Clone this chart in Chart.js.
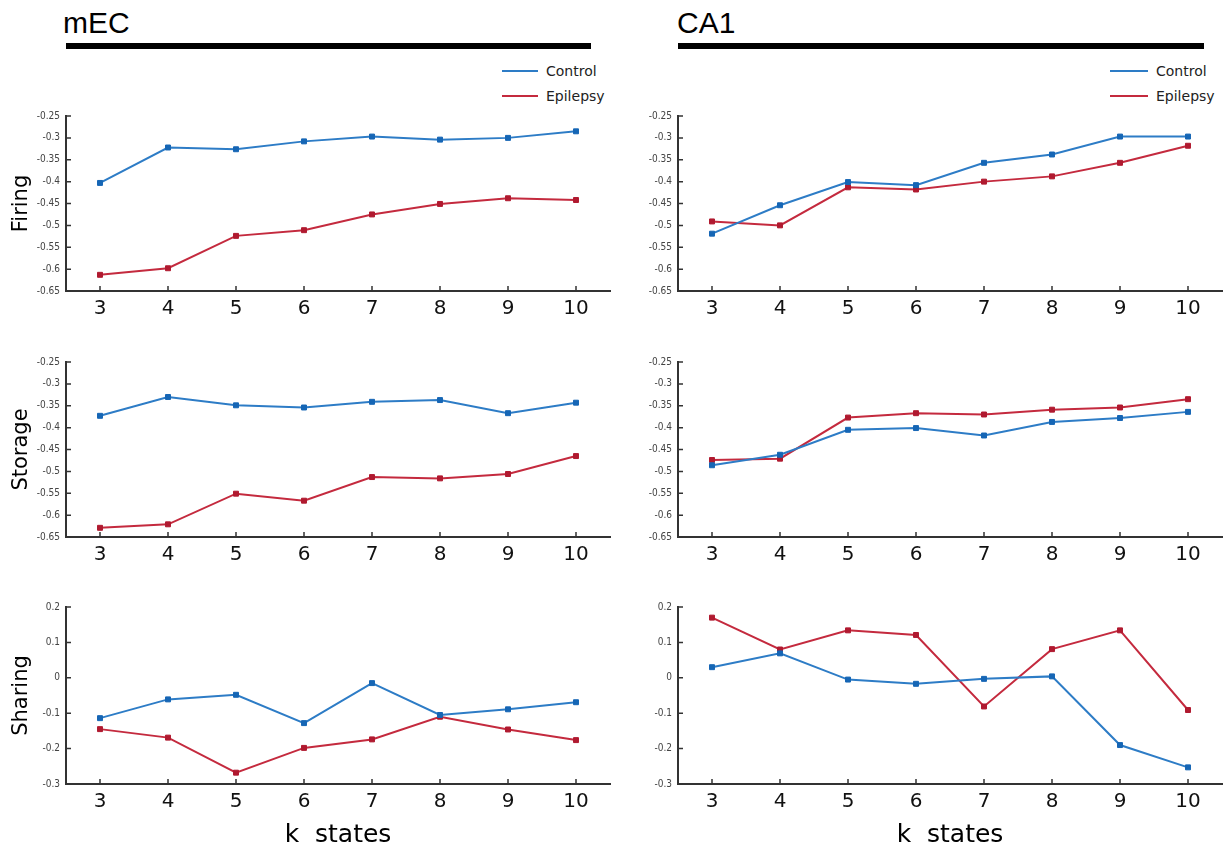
<!DOCTYPE html>
<html>
<head>
<meta charset="utf-8">
<title>mEC / CA1 k states</title>
<script src="https://cdn.jsdelivr.net/npm/chart.js@4.4.1/dist/chart.umd.min.js"></script>
<style>
body { margin: 0; background: #fff; width: 1224px; height: 850px; position: relative; overflow: hidden; font-family: "DejaVu Sans", sans-serif; }
.box { position: absolute; }
.region { position: absolute; font-family: "Liberation Sans", Arial, sans-serif; font-size: 30px; line-height: 30px; color: #000; }
.bar { position: absolute; top: 43px; height: 6px; background: #000; }
.legend { position: absolute; font-size: 14px; color: #222; }
.legend .row { height: 25px; display: flex; align-items: center; }
.legend .line { display: inline-block; height: 2px; margin-right: 8px; }
</style>
</head>
<body>

<div class="region" style="left:63px; top:8px">mEC</div>
<div class="bar" style="left:66px; width:525px"></div>
<div class="region" style="left:677px; top:8px">CA1</div>
<div class="bar" style="left:678px; width:526px"></div>

<div class="legend" id="legendMec" style="left:502px; top:58px"></div>
<div class="legend" id="legendCa1" style="left:1110px; top:58px"></div>

<div class="box" style="left:0; top:104px"><canvas id="firingMec" width="614" height="217"></canvas></div>
<div class="box" style="left:612px; top:104px"><canvas id="firingCa1" width="612" height="217"></canvas></div>
<div class="box" style="left:0; top:350px"><canvas id="storageMec" width="614" height="217"></canvas></div>
<div class="box" style="left:612px; top:350px"><canvas id="storageCa1" width="612" height="217"></canvas></div>
<div class="box" style="left:0; top:595px"><canvas id="sharingMec" width="614" height="255"></canvas></div>
<div class="box" style="left:612px; top:595px"><canvas id="sharingCa1" width="612" height="255"></canvas></div>

<script>
// x categories and series
var kStates = ['3', '4', '5', '6', '7', '8', '9', '10'];
var seriesNames = ['Control', 'Epilepsy'];
var lineColors = ['#2d7cc6', '#c42a3e'];
var pointColors = ['#1666b5', '#b01a30'];

// Firing
var firingMecControl = [-0.403, -0.322, -0.326, -0.308, -0.297, -0.304, -0.300, -0.285];
var firingMecEpilepsy = [-0.613, -0.598, -0.524, -0.511, -0.475, -0.451, -0.438, -0.442];
var firingCa1Control = [-0.519, -0.454, -0.401, -0.408, -0.357, -0.338, -0.297, -0.297];
var firingCa1Epilepsy = [-0.491, -0.500, -0.413, -0.418, -0.400, -0.388, -0.357, -0.318];

// Storage
var storageMecControl = [-0.373, -0.330, -0.349, -0.354, -0.341, -0.337, -0.367, -0.343];
var storageMecEpilepsy = [-0.629, -0.621, -0.551, -0.567, -0.513, -0.516, -0.506, -0.465];
var storageCa1Control = [-0.486, -0.462, -0.405, -0.401, -0.418, -0.387, -0.378, -0.364];
var storageCa1Epilepsy = [-0.474, -0.471, -0.377, -0.367, -0.370, -0.359, -0.354, -0.335];

// Sharing
var sharingMecControl = [-0.114, -0.061, -0.048, -0.128, -0.015, -0.105, -0.089, -0.069];
var sharingMecEpilepsy = [-0.145, -0.169, -0.268, -0.198, -0.174, -0.110, -0.146, -0.176];
var sharingCa1Control = [0.030, 0.069, -0.005, -0.017, -0.003, 0.004, -0.190, -0.253];
var sharingCa1Epilepsy = [0.170, 0.080, 0.134, 0.121, -0.081, 0.081, 0.134, -0.091];

// y axis ranges [min, max, step]
var scoreTicks = [-0.65, -0.25, 0.05];
var sharingTicks = [-0.3, 0.2, 0.1];

Chart.defaults.font.family = '"DejaVu Sans", sans-serif';

// matlab style ticks pointing into the plot
var inwardTicks = {
    id: 'inwardTicks',
    beforeDatasetsDraw: function(chart) {
        var ctx = chart.ctx;
        var area = chart.chartArea;
        var x = chart.scales.x;
        var y = chart.scales.y;
        ctx.save();
        ctx.strokeStyle = '#333';
        ctx.lineWidth = 1.5;
        ctx.beginPath();
        for (var i = 0; i < x.ticks.length; i++) {
            var px = x.getPixelForTick(i);
            ctx.moveTo(px, area.bottom);
            ctx.lineTo(px, area.bottom - 5);
        }
        for (var j = 0; j < y.ticks.length; j++) {
            var py = y.getPixelForTick(j);
            ctx.moveTo(area.left, py);
            ctx.lineTo(area.left + 5, py);
        }
        ctx.stroke();
        ctx.restore();
    }
};

function makeDataset(i, values) {
    return {
        label: seriesNames[i],
        data: values,
        borderColor: lineColors[i],
        backgroundColor: pointColors[i],
        borderWidth: 2,
        tension: 0,
        pointStyle: 'rect',
        pointRadius: 3.5,
        pointBorderWidth: 1,
        pointBorderColor: pointColors[i],
        pointBackgroundColor: pointColors[i]
    };
}

function createPanel(id, control, epilepsy, yTicks, yTitle, xTitle, xHeight, padRight) {
    var ctx = document.getElementById(id).getContext('2d');
    return new Chart(ctx, {
        type: 'line',
        data: {
            labels: kStates,
            datasets: [makeDataset(0, control), makeDataset(1, epilepsy)]
        },
        options: {
            responsive: false,
            animation: false,
            devicePixelRatio: 1,
            layout: { autoPadding: false, padding: { top: 10, right: padRight, left: 0, bottom: 0 } },
            plugins: { legend: { display: false }, tooltip: { enabled: false } },
            scales: {
                x: {
                    type: 'category',
                    offset: true,
                    grid: { display: false, drawTicks: false },
                    border: { display: true, color: '#333', width: 2 },
                    ticks: { padding: 6, color: '#111', font: { size: 20 }, maxRotation: 0, autoSkip: false },
                    title: { display: !!xTitle, text: xTitle, color: '#000', font: { size: 25 }, padding: { top: 0, bottom: 0 } },
                    afterFit: function(scale) { scale.height = xHeight; }
                },
                y: {
                    min: yTicks[0],
                    max: yTicks[1],
                    grid: { display: false, drawTicks: false },
                    border: { display: true, color: '#333', width: 2 },
                    ticks: {
                        stepSize: yTicks[2],
                        padding: 6,
                        color: '#444',
                        font: { family: '"DejaVu Sans Condensed", "DejaVu Sans", sans-serif', size: 10 },
                        callback: function(v) { return Number(v.toFixed(2)).toString(); }
                    },
                    title: { display: !!yTitle, text: yTitle, color: '#000', font: { size: 21 }, padding: { top: 9, bottom: 0 } },
                    afterFit: function(scale) { scale.width = 66; }
                }
            }
        },
        plugins: [inwardTicks]
    });
}

function buildLegend(id, lineWidth) {
    var el = document.getElementById(id);
    for (var i = 0; i < seriesNames.length; i++) {
        var row = document.createElement('div');
        row.className = 'row';
        var line = document.createElement('span');
        line.className = 'line';
        line.style.width = lineWidth + 'px';
        line.style.background = lineColors[i];
        row.appendChild(line);
        row.appendChild(document.createTextNode(seriesNames[i]));
        el.appendChild(row);
    }
}

buildLegend('legendMec', 36);
buildLegend('legendCa1', 38);

var charts = [];
charts.push(createPanel('firingMec', firingMecControl, firingMecEpilepsy, scoreTicks, 'Firing', '', 30, 4));
charts.push(createPanel('firingCa1', firingCa1Control, firingCa1Epilepsy, scoreTicks, '', '', 30, 2));
charts.push(createPanel('storageMec', storageMecControl, storageMecEpilepsy, scoreTicks, 'Storage', '', 30, 4));
charts.push(createPanel('storageCa1', storageCa1Control, storageCa1Epilepsy, scoreTicks, '', '', 30, 2));
charts.push(createPanel('sharingMec', sharingMecControl, sharingMecEpilepsy, sharingTicks, 'Sharing', 'k  states', 66, 4));
charts.push(createPanel('sharingCa1', sharingCa1Control, sharingCa1Epilepsy, sharingTicks, '', 'k  states', 66, 2));
</script>
</body>
</html>
